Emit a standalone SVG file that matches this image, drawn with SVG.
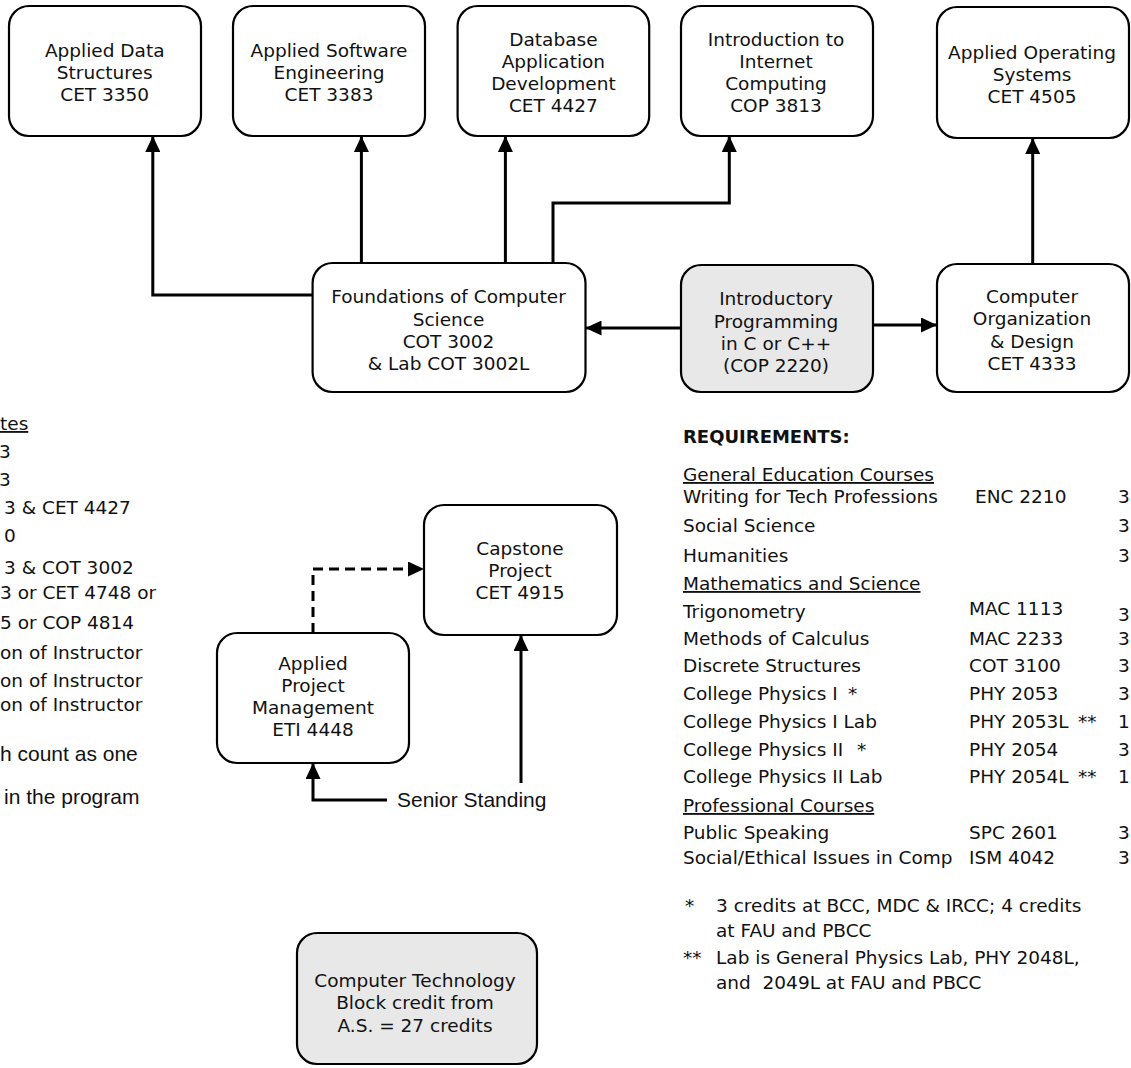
<svg xmlns="http://www.w3.org/2000/svg" width="1131" height="1068" viewBox="0 0 1131 1068">
<style>
  .box { fill: #ffffff; stroke: #000000; stroke-width: 2.2; }
  .gray { fill: #e8e8e8; }
  .t { font-family: "DejaVu Sans", Verdana, sans-serif; font-size: 18.5px; fill: #111111; }
  .c { text-anchor: middle; }
  .a { font-family: "Liberation Sans", Arial, sans-serif; font-size: 21px; fill: #111111; }
  .b { font-weight: bold; font-size: 18px; }
  .u { text-decoration: underline; }
  .conn { fill: none; stroke: #000000; stroke-width: 3; }
  .dash { stroke-dasharray: 10 6; }
</style>
<defs>
  <marker id="arr" markerUnits="userSpaceOnUse" markerWidth="16" markerHeight="15" refX="16" refY="7.5" orient="auto">
    <path d="M0,0 L16,7.5 L0,15 z" fill="#000000"/>
  </marker>
</defs>
<rect width="1131" height="1068" fill="#ffffff"/>

<g id="connectors">
  <path class="conn" d="M312.6,295 H152.8 V136" marker-end="url(#arr)"/>
  <path class="conn" d="M361.4,263 V136" marker-end="url(#arr)"/>
  <path class="conn" d="M505.4,263 V136" marker-end="url(#arr)"/>
  <path class="conn" d="M553,263 V203 H729.3 V136" marker-end="url(#arr)"/>
  <path class="conn" d="M1032.7,264 V138" marker-end="url(#arr)"/>
  <path class="conn" d="M681,328 H585.5" marker-end="url(#arr)"/>
  <path class="conn" d="M873,325 H937" marker-end="url(#arr)"/>
  <path class="conn dash" d="M313,633 V569 H424" marker-end="url(#arr)"/>
  <path class="conn" d="M387,800 H313 V763" marker-end="url(#arr)"/>
  <path class="conn" d="M521,783 V635" marker-end="url(#arr)"/>
</g>

<g id="n-cet3350">
  <rect class="box" x="9" y="6" width="192" height="130" rx="20"/>
  <text class="t c" x="104.7" y="57">Applied Data</text>
  <text class="t c" x="104.7" y="79">Structures</text>
  <text class="t c" x="104.7" y="101">CET 3350</text>
</g>
<g id="n-cet3383">
  <rect class="box" x="233" y="6" width="192" height="130" rx="20"/>
  <text class="t c" x="329" y="57">Applied Software</text>
  <text class="t c" x="329" y="79">Engineering</text>
  <text class="t c" x="329" y="101">CET 3383</text>
</g>
<g id="n-cet4427">
  <rect class="box" x="457.6" y="6" width="191.6" height="130" rx="20"/>
  <text class="t c" x="553.4" y="46">Database</text>
  <text class="t c" x="553.4" y="68">Application</text>
  <text class="t c" x="553.4" y="90">Development</text>
  <text class="t c" x="553.4" y="112">CET 4427</text>
</g>
<g id="n-cop3813">
  <rect class="box" x="681" y="6" width="192" height="130" rx="20"/>
  <text class="t c" x="776" y="46">Introduction to</text>
  <text class="t c" x="776" y="68">Internet</text>
  <text class="t c" x="776" y="90">Computing</text>
  <text class="t c" x="776" y="112">COP 3813</text>
</g>
<g id="n-cet4505">
  <rect class="box" x="937" y="7" width="192" height="131" rx="20"/>
  <text class="t c" x="1032" y="59">Applied Operating</text>
  <text class="t c" x="1032" y="81">Systems</text>
  <text class="t c" x="1032" y="103">CET 4505</text>
</g>
<g id="n-cot3002">
  <rect class="box" x="312.6" y="263" width="272.9" height="129" rx="20"/>
  <text class="t c" x="448.5" y="303">Foundations of Computer</text>
  <text class="t c" x="448.5" y="326">Science</text>
  <text class="t c" x="448.5" y="348">COT 3002</text>
  <text class="t c" x="448.5" y="370">&amp; Lab COT 3002L</text>
</g>
<g id="n-cop2220">
  <rect class="box gray" x="681" y="265" width="192" height="127" rx="20"/>
  <text class="t c" x="776" y="305">Introductory</text>
  <text class="t c" x="776" y="328">Programming</text>
  <text class="t c" x="776" y="350">in C or C++</text>
  <text class="t c" x="776" y="372">(COP 2220)</text>
</g>
<g id="n-cet4333">
  <rect class="box" x="937" y="264" width="192" height="128" rx="20"/>
  <text class="t c" x="1032" y="303">Computer</text>
  <text class="t c" x="1032" y="325">Organization</text>
  <text class="t c" x="1032" y="348">&amp; Design</text>
  <text class="t c" x="1032" y="370">CET 4333</text>
</g>
<g id="n-cet4915">
  <rect class="box" x="424" y="505" width="193" height="130" rx="20"/>
  <text class="t c" x="520" y="555">Capstone</text>
  <text class="t c" x="520" y="577">Project</text>
  <text class="t c" x="520" y="599">CET 4915</text>
</g>
<g id="n-eti4448">
  <rect class="box" x="217" y="633" width="192" height="130" rx="20"/>
  <text class="t c" x="313" y="670">Applied</text>
  <text class="t c" x="313" y="692">Project</text>
  <text class="t c" x="313" y="714">Management</text>
  <text class="t c" x="313" y="736">ETI 4448</text>
</g>
<g id="n-senior">
  <text class="a" x="397" y="807">Senior Standing</text>
</g>
<g id="n-block">
  <rect class="box gray" x="297" y="933" width="240" height="131" rx="20"/>
  <text class="t c" x="415" y="987">Computer Technology</text>
  <text class="t c" x="415" y="1009">Block credit from</text>
  <text class="t c" x="415" y="1032">A.S. = 27 credits</text>
</g>

<g id="notes-left">
  <text class="t u" x="0" y="430">tes</text>
  <text class="t" x="-1" y="458">3</text>
  <text class="t" x="-1" y="486">3</text>
  <text class="t" x="4" y="514">3 &amp; CET 4427</text>
  <text class="t" x="4" y="542">0</text>
  <text class="t" x="4" y="574">3 &amp; COT 3002</text>
  <text class="t" x="0" y="599">3 or CET 4748 or</text>
  <text class="t" x="0" y="629">5 or COP 4814</text>
  <text class="t" x="0" y="659">on of Instructor</text>
  <text class="t" x="0" y="687">on of Instructor</text>
  <text class="t" x="0" y="711">on of Instructor</text>
  <text class="a" x="0" y="761">h count as one</text>
  <text class="a" x="4" y="804">in the program</text>
</g>

<g id="requirements">
  <text class="t b" x="683" y="443">REQUIREMENTS:</text>
  <text class="t u" x="683" y="481">General Education Courses</text>
  <text class="t" x="683" y="503">Writing for Tech Professions</text>
  <text class="t" x="975" y="503">ENC 2210</text>
  <text class="t" x="1118" y="503">3</text>
  <text class="t" x="683" y="532">Social Science</text>
  <text class="t" x="1118" y="532">3</text>
  <text class="t" x="683" y="562">Humanities</text>
  <text class="t" x="1118" y="562">3</text>
  <text class="t u" x="683" y="590">Mathematics and Science</text>
  <text class="t" x="683" y="618">Trigonometry</text>
  <text class="t" x="969" y="615">MAC 1113</text>
  <text class="t" x="1118" y="621">3</text>
  <text class="t" x="683" y="645">Methods of Calculus</text>
  <text class="t" x="969" y="645">MAC 2233</text>
  <text class="t" x="1118" y="645">3</text>
  <text class="t" x="683" y="672">Discrete Structures</text>
  <text class="t" x="969" y="672">COT 3100</text>
  <text class="t" x="1118" y="672">3</text>
  <text class="t" x="683" y="700">College Physics I <tspan x="848">*</tspan></text>
  <text class="t" x="969" y="700">PHY 2053</text>
  <text class="t" x="1118" y="700">3</text>
  <text class="t" x="683" y="728">College Physics I Lab</text>
  <text class="t" x="969" y="728">PHY 2053L <tspan x="1078">**</tspan></text>
  <text class="t" x="1118" y="728">1</text>
  <text class="t" x="683" y="756">College Physics II <tspan x="857">*</tspan></text>
  <text class="t" x="969" y="756">PHY 2054</text>
  <text class="t" x="1118" y="756">3</text>
  <text class="t" x="683" y="783">College Physics II Lab</text>
  <text class="t" x="969" y="783">PHY 2054L <tspan x="1078">**</tspan></text>
  <text class="t" x="1118" y="783">1</text>
  <text class="t u" x="683" y="812">Professional Courses</text>
  <text class="t" x="683" y="839">Public Speaking</text>
  <text class="t" x="969" y="839">SPC 2601</text>
  <text class="t" x="1118" y="839">3</text>
  <text class="t" x="683" y="864">Social/Ethical Issues in Comp</text>
  <text class="t" x="969" y="864">ISM 4042</text>
  <text class="t" x="1118" y="864">3</text>
  <text class="t" x="685" y="912">*</text>
  <text class="t" x="716" y="912">3 credits at BCC, MDC &amp; IRCC; 4 credits</text>
  <text class="t" x="716" y="937">at FAU and PBCC</text>
  <text class="t" x="683" y="964">**</text>
  <text class="t" x="716" y="964">Lab is General Physics Lab, PHY 2048L,</text>
  <text class="t" x="716" y="989" xml:space="preserve">and  2049L at FAU and PBCC</text>
</g>
</svg>
